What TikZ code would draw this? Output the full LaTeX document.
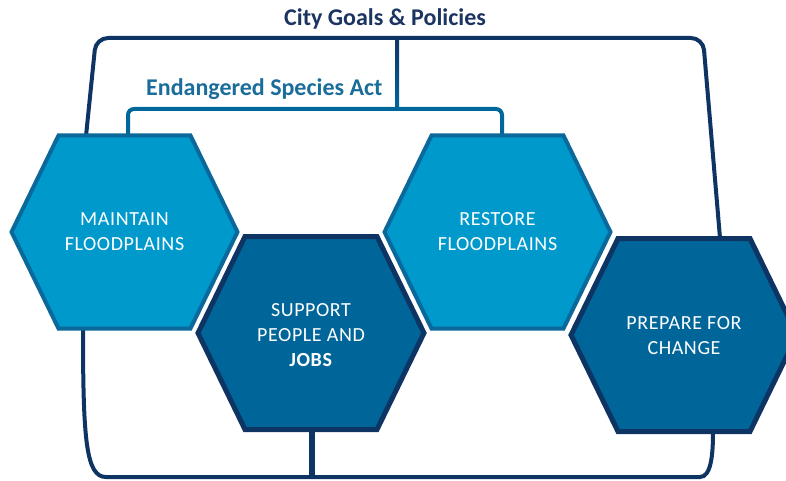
\documentclass[tikz,border=0pt]{standalone}
\usepackage{fontspec}
\setmainfont{Carlito}
\newfontfamily\hexfont[LetterSpace=3]{Carlito}
\definecolor{lightfill}{RGB}{0,153,204}
\definecolor{lightedge}{RGB}{10,104,154}
\definecolor{darkfill}{RGB}{0,102,153}
\definecolor{darkedge}{RGB}{14,52,100}
\definecolor{navyline}{RGB}{14,52,100}
\definecolor{esaline}{RGB}{0,103,155}
\definecolor{citytext}{RGB}{28,52,96}
\definecolor{esatext}{RGB}{26,108,154}
\tikzset{
  hexlight/.style={fill=lightfill, draw=lightedge, line width=4pt, line join=miter},
  hexdark/.style={fill=darkfill, draw=darkedge, line width=5pt, line join=miter},
  hextext/.style={text=white, align=center, font=\hexfont\fontsize{20}{25}\selectfont},
  cityline/.style={draw=navyline, line width=4pt},
  esaline/.style={draw=esaline, line width=4pt},
  headtext/.style={font=\fontsize{24}{26}\selectfont\bfseries}
}
\newcommand{\hexpath}[4]{% style, center x, center y, name
  \path[#1] (#2-113,#3) -- (#2-66,#3+96.5) -- (#2+66,#3+96.5) -- (#2+113,#3)
    -- (#2+66,#3-96.5) -- (#2-66,#3-96.5) -- cycle;
  \coordinate (#4) at (#2,#3);}
\begin{document}
\begin{tikzpicture}[x=1pt,y=1pt]
\useasboundingbox (0,0) rectangle (786,480);
\clip (0,0) rectangle (786,480);

% attachment points
\coordinate (h1top) at (86,344);
\coordinate (h1esa) at (128,344);
\coordinate (h3esa) at (502,344);
\coordinate (h4top) at (720,242);
\coordinate (h1bot) at (83,151);
\coordinate (h2bot) at (312,51);
\coordinate (h4bot) at (713,48);
\coordinate (citystem) at (397,442);
\coordinate (esastem) at (397,371);
\coordinate (botstem) at (312,3);

% City Goals bracket
\draw[cityline, rounded corners=12pt] (h1top) -- (96,442) -- (703,442) -- (h4top);
% Endangered Species Act bracket
\draw[esaline, rounded corners=6pt] (h1esa) -- (128,371) -- (502,371) -- (h3esa);
% stem between the two brackets
\shade[top color=navyline, bottom color=esaline] (395,442) rectangle (399,371);

% lower bracket
\draw[cityline] (h1bot) .. controls (83,40) and (86,3) .. (106,3) -- (700,3)
  .. controls (711,3) and (713,25) .. (h4bot);
\draw[cityline, line width=6pt] (h2bot) -- (botstem);

% hexagons
\hexpath{hexlight}{124.5}{248}{h1}
\hexpath{hexlight}{497.5}{248}{h3}
\hexpath{hexdark}{311}{147}{h2}
\hexpath{hexdark}{684}{145}{h4}

\node[hextext] (t1) at (124.5,248) {MAINTAIN\\FLOODPLAINS};
\node[hextext] (t3) at (497.5,248) {RESTORE\\FLOODPLAINS};
\node[hextext] (t2) at (311,145) {SUPPORT\\PEOPLE AND\\\textbf{JOBS}};
\node[hextext] (t4) at (684,144) {PREPARE FOR\\CHANGE};

% headings
\node[headtext, text=citytext] (city) at (385,461) {City Goals \& Policies};
\node[headtext, text=esatext, anchor=east] (esa) at (386,391) {Endangered Species Act};
\end{tikzpicture}
\end{document}
